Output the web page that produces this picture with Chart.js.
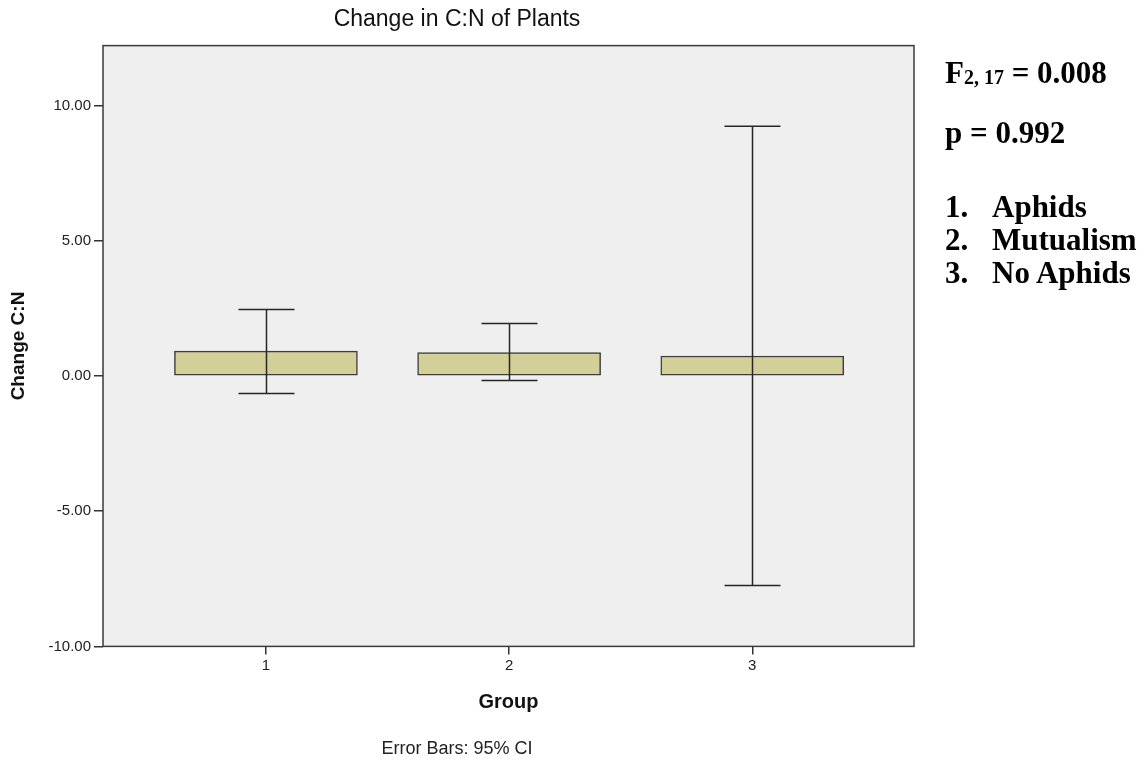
<!DOCTYPE html>
<html>
<head>
<meta charset="utf-8">
<script src="https://cdn.jsdelivr.net/npm/chart.js@4.4.1/dist/chart.umd.min.js"></script>
<style>
  body { margin: 0; background: #fff; }
  #wrap { position: relative; width: 1147px; height: 763px; }
  .stat {
    position: absolute;
    font-family: "Liberation Serif", "Times New Roman", serif;
    font-weight: bold;
    font-size: 31px;
    line-height: 31px;
    color: #000;
    white-space: nowrap;
  }
  .stat sub { font-size: 20px; vertical-align: baseline; position: relative; top: 1px; }
  .stat .num { display: inline-block; width: 47px; }
</style>
</head>
<body>
<div id="wrap">
  <canvas id="cnChart"></canvas>
  <div class="stat" style="left:945px; top:57px;">F<sub>2, 17</sub> = 0.008</div>
  <div class="stat" style="left:945px; top:117px;">p = 0.992</div>
  <div class="stat" style="left:945px; top:191px;"><span class="num">1.</span>Aphids</div>
  <div class="stat" style="left:945px; top:224px;"><span class="num">2.</span>Mutualism</div>
  <div class="stat" style="left:945px; top:257px;"><span class="num">3.</span>No Aphids</div>
</div>
<script>
// values
const groups = [1, 2, 3];
const meanChange = [0.92, 0.87, 0.74];
const ciLower = [-0.65, -0.17, -7.75];
const ciUpper = [2.46, 1.94, 9.24];
const yTicks = [-10, -5, 0, 5, 10];

const CAP_HALF = 28; // px

Chart.defaults.font.family = '"Liberation Sans", Arial, sans-serif';
Chart.defaults.color = '#1a1a1a';

const plotBackground = {
  id: 'plotBackground',
  beforeDatasetsDraw(chart) {
    const { ctx, chartArea: a } = chart;
    ctx.save();
    ctx.fillStyle = '#efefef';
    ctx.fillRect(a.left, a.top, a.right - a.left, a.bottom - a.top);
    ctx.restore();
  }
};

const errorBars = {
  id: 'errorBars',
  afterDatasetsDraw(chart) {
    const { ctx, scales: { x, y }, chartArea: a } = chart;
    ctx.save();
    ctx.strokeStyle = '#262626';
    ctx.lineWidth = 1.5;
    groups.forEach((g, i) => {
      const px = Math.round(x.getPixelForValue(g)) + 0.5;
      const top = y.getPixelForValue(ciUpper[i]);
      const bot = y.getPixelForValue(ciLower[i]);
      ctx.beginPath();
      ctx.moveTo(px, top);
      ctx.lineTo(px, bot);
      ctx.moveTo(px - CAP_HALF, top);
      ctx.lineTo(px + CAP_HALF, top);
      ctx.moveTo(px - CAP_HALF, bot);
      ctx.lineTo(px + CAP_HALF, bot);
      ctx.stroke();
    });
    // frame round the plot
    ctx.strokeStyle = '#3a3a3a';
    ctx.lineWidth = 1.5;
    ctx.strokeRect(a.left, a.top, a.right - a.left, a.bottom - a.top);
    ctx.restore();
  }
};

new Chart(document.getElementById('cnChart'), {
  type: 'bar',
  data: {
    datasets: [{
      data: groups.map((g, i) => ({ x: g, y: meanChange[i] })),
      backgroundColor: '#d3cf98',
      borderColor: '#3d3d3d',
      borderWidth: 1.5,
      borderSkipped: false,
      barThickness: 183
    }]
  },
  options: {
    responsive: true,
    maintainAspectRatio: false,
    animation: false,
    layout: { padding: { right: 233 } },
    plugins: {
      legend: { display: false },
      tooltip: { enabled: false },
      title: {
        display: true,
        text: 'Change in C:N of Plants',
        font: { size: 23, weight: 'normal' },
        color: '#111',
        padding: { top: 6, bottom: 12 }
      },
      subtitle: {
        display: true,
        position: 'bottom',
        text: 'Error Bars: 95% CI',
        font: { size: 18, weight: 'normal' },
        color: '#222',
        padding: { top: 10, bottom: 3 }
      }
    },
    scales: {
      x: {
        type: 'linear',
        min: 0.33,
        max: 3.665,
        offset: false,
        afterBuildTicks: s => { s.ticks = groups.map(v => ({ value: v })); },
        afterFit: s => { s.height = 82; },
        ticks: { font: { size: 15 }, padding: 2, color: '#222', callback: v => String(v) },
        grid: { offset: false, drawOnChartArea: false, tickLength: 8, color: '#333', lineWidth: 1.5 },
        border: { display: false },
        title: {
          display: true,
          text: 'Group',
          font: { size: 20, weight: 'bold' },
          color: '#111',
          padding: { top: 0, bottom: 14 }
        }
      },
      y: {
        min: -10,
        max: 12.22,
        afterBuildTicks: s => { s.ticks = yTicks.map(v => ({ value: v })); },
        afterFit: s => { s.width = 103; },
        ticks: { font: { size: 15 }, padding: 3, color: '#222', callback: v => v.toFixed(2) },
        grid: { drawOnChartArea: false, tickLength: 9, color: '#333', lineWidth: 1.5 },
        border: { display: false },
        title: {
          display: true,
          text: 'Change C:N',
          font: { size: 19, weight: 'bold' },
          color: '#111',
          padding: { top: 7, bottom: 0 }
        }
      }
    }
  },
  plugins: [plotBackground, errorBars]
});
</script>
</body>
</html>
